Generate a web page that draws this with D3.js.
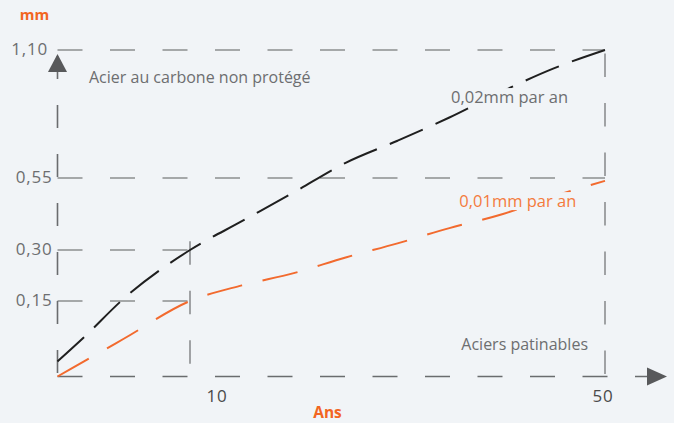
<!DOCTYPE html>
<html>
<head>
<meta charset="utf-8">
<script src="https://cdn.jsdelivr.net/npm/d3@7"></script>
<style>
  html, body { margin: 0; padding: 0; background: #f1f4f7; }
  svg { display: block; }
  text { font-family: "Open Sans", "Noto Sans", sans-serif; }
</style>
</head>
<body>
<svg id="chart" width="674" height="423"></svg>
<script>
// ---- data ----
const years = [0, 2, 5, 10, 15, 20, 25, 30, 35, 40, 45, 50];
const carbonSteel = [0.03, 0.078, 0.157, 0.30, 0.40, 0.50, 0.615, 0.71, 0.81, 0.92, 1.02, 1.10];
const weatheringSteel = [0, 0.03, 0.075, 0.15, 0.196, 0.232, 0.278, 0.323, 0.376, 0.423, 0.486, 0.54];
const yTicks = [0.15, 0.30, 0.55, 1.10];
const yTickLabels = ["0,15", "0,30", "0,55", "1,10"];
const xTicks = [10, 50];
const xTickLabels = ["10", "50"];
// horizontal reference lines: value and the year where they end
const hRefValues = [1.10, 0.55, 0.30, 0.15];
const hRefEnds = [50, 50, 10, 10];
// vertical reference lines: year and the value where they start
const vRefYears = [10, 50];
const vRefTops = [0.33, 1.085];
const seriesLabels = ["0,02mm par an", "0,01mm par an"];
const seriesLabelAt = [[40.8, 0.872], [41.6, 0.449]];
const yUnit = "mm", xUnit = "Ans";
const noteTop = "Acier au carbone non protégé";
const noteBottom = "Aciers patinables";

// ---- scales (piecewise, as in the original drawing) ----
const x = d3.scaleLinear().domain([0, 10, 50]).range([57.5, 190, 605]);
const y = d3.scaleLinear().domain([0, 0.15, 0.30, 0.55, 1.10]).range([376.5, 301, 250, 178, 50]);

const svg = d3.select("#chart");
const grid = "#8c8e90";
const dashH = "25,27.5";
const bg = "#f1f4f7";

// horizontal reference lines
svg.selectAll("line.href").data(hRefValues).join("line")
  .attr("class", "href")
  .attr("x1", x(0)).attr("x2", (d, i) => x(hRefEnds[i]))
  .attr("y1", d => y(d)).attr("y2", d => y(d))
  .attr("stroke", grid).attr("stroke-width", 1.6)
  .attr("stroke-dasharray", dashH);

// vertical reference lines
svg.selectAll("line.vref").data(vRefYears).join("line")
  .attr("class", "vref")
  .attr("x1", d => x(d)).attr("x2", d => x(d))
  .attr("y1", (d, i) => y(vRefTops[i])).attr("y2", y(0))
  .attr("stroke", grid).attr("stroke-width", 1.6)
  .attr("stroke-dasharray", "23.5,26");

// x axis (dashed) with arrow
svg.append("line")
  .attr("x1", x(0)).attr("x2", 652)
  .attr("y1", y(0)).attr("y2", y(0))
  .attr("stroke", "#6a6c6e").attr("stroke-width", 1.6)
  .attr("stroke-dasharray", dashH);
svg.append("path")
  .attr("d", `M${647},${y(0) - 9}L${667},${y(0)}L${647},${y(0) + 9}Z`)
  .attr("fill", "#58595b");

// y axis (dashed) with arrow
svg.append("line")
  .attr("x1", x(0)).attr("x2", x(0))
  .attr("y1", 56).attr("y2", y(0))
  .attr("stroke", "#6a6c6e").attr("stroke-width", 1.6)
  .attr("stroke-dasharray", "23,26");
svg.append("path")
  .attr("d", `M${x(0) - 9.5},72L${x(0)},54L${x(0) + 9.5},72Z`)
  .attr("fill", "#58595b");

// series lines
const line = d3.line().x(d => x(d[0])).y(d => y(d[1])).curve(d3.curveMonotoneX);
const blackData = years.map((t, i) => [t, carbonSteel[i]]);
const orangeData = years.map((t, i) => [t, weatheringSteel[i]]);

svg.append("path").datum(blackData)
  .attr("d", line).attr("fill", "none")
  .attr("stroke", "#1f1f1f").attr("stroke-width", 2)
  .attr("stroke-dasharray", "36,14");
svg.append("path").datum(orangeData)
  .attr("d", line).attr("fill", "none")
  .attr("stroke", "#f26a2e").attr("stroke-width", 2)
  .attr("stroke-dasharray", "36,21");

// series labels with background masks
const labelColors = ["#6d6e70", "#f47b3d"];
seriesLabels.forEach((txt, i) => {
  const g = svg.append("g");
  const rect = g.append("rect").attr("fill", bg);
  const t = g.append("text")
    .attr("x", x(seriesLabelAt[i][0])).attr("y", y(seriesLabelAt[i][1]))
    .attr("text-anchor", "middle")
    .attr("font-size", 16.5)
    .attr("fill", labelColors[i])
    .text(txt);
  const b = t.node().getBBox();
  rect.attr("x", b.x - 1).attr("y", b.y + 3).attr("width", b.width + 2).attr("height", b.height - 5);
});

// y tick labels
svg.selectAll("text.ytick").data(yTicks).join("text")
  .attr("class", "ytick")
  .attr("x", d => d === 1.10 ? 48 : 52.5).attr("y", d => y(d) + 4.5)
  .attr("text-anchor", "end")
  .attr("font-size", 17)
  .attr("letter-spacing", 0.8)
  .attr("fill", "#6d6e70")
  .text((d, i) => yTickLabels[i]);

// x tick labels
svg.selectAll("text.xtick").data(xTicks).join("text")
  .attr("class", "xtick")
  .attr("x", (d, i) => i === 0 ? x(d) + 27 : x(d) - 2)
  .attr("y", 402)
  .attr("text-anchor", "middle")
  .attr("font-size", 17)
  .attr("letter-spacing", 0.8)
  .attr("fill", "#4a4a4a")
  .text((d, i) => xTickLabels[i]);

// unit labels
svg.append("text").attr("x", 34.5).attr("y", 20)
  .attr("text-anchor", "middle").attr("font-size", 15).attr("font-weight", "bold")
  .attr("fill", "#f26522").text(yUnit);
svg.append("text").attr("x", 327.5).attr("y", 418)
  .attr("text-anchor", "middle").attr("font-size", 15.5).attr("font-weight", "bold")
  .attr("fill", "#f26522").text(xUnit);

// notes
svg.append("text").attr("x", 89).attr("y", 83)
  .attr("font-size", 16).attr("fill", "#6d6e70").text(noteTop);
svg.append("text").attr("x", 588).attr("y", 350)
  .attr("text-anchor", "end")
  .attr("font-size", 16).attr("fill", "#6d6e70").text(noteBottom);
</script>
</body>
</html>
